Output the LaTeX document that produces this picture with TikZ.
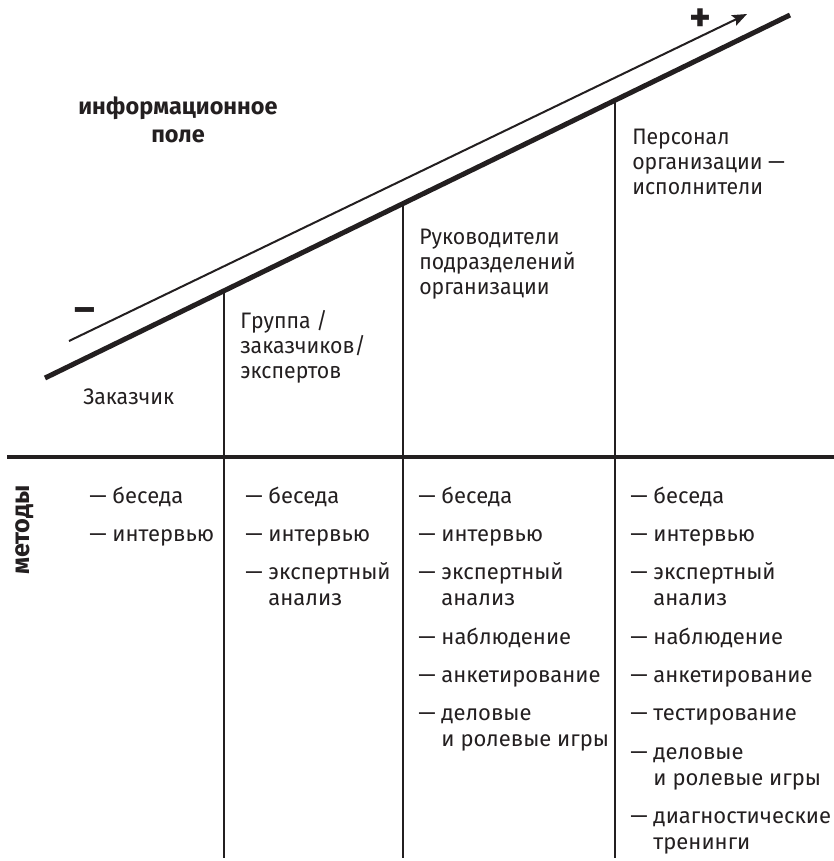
\documentclass[tikz,border=0pt]{standalone}
\usepackage{fontspec}
\setsansfont{Fira Sans}
\newfontfamily\narrowsans[FakeStretch=0.95]{Fira Sans}
\usetikzlibrary{arrows.meta}

\begin{document}
\begin{tikzpicture}[x=0.75pt, y=-0.75pt, line join=round, font=\sffamily,
    thickline/.style={line width=3.75pt, draw=ink, line cap=butt},
    rule/.style={line width=0.9pt, draw=ink},
    toplabel/.style={anchor=base west, inner sep=0pt, align=left, text=ink,
      font=\narrowsans\fontsize{16.8}{18.4}\selectfont},
    methodlist/.style={anchor=base west, inner sep=0pt, align=left, text=ink,
      font=\sffamily\fontsize{16.5}{19.35}\selectfont},
    boldlabel/.style={inner sep=0pt, text=ink, font=\sffamily\bfseries\fontsize{17.6}{21}\selectfont}]

% ---------- helpers ----------
\definecolor{ink}{RGB}{35,31,32}
\newcommand{\indentline}{\hphantom{— }}
\useasboundingbox (0,0) rectangle (834,861);

% ---------- slope ----------
\coordinate (lo) at (45,378);
\coordinate (hi) at (790,15);
\coordinate (a0) at (69,341);
\coordinate (a1) at (747,14);
\draw[thickline] (lo) -- (hi)
  coordinate[pos=0.2403] (t1)
  coordinate[pos=0.4805] (t2)
  coordinate[pos=0.7651] (t3);
\draw[line width=1.5pt, draw=ink, -{Stealth[length=11pt,width=8.5pt,inset=2pt]}] (a0) -- (a1);
\node[boldlabel, font=\sffamily\bfseries\fontsize{31}{31}\selectfont] (plus) at (700,20) {+};
\node[boldlabel, font=\sffamily\bfseries\fontsize{30}{30}\selectfont] (minus) at (85,315) {–};
% last line baseline (multi-line nodes sit on their last line)
\node[boldlabel, anchor=base, align=center] (field) at (178,142) {информационное\\поле};

% ---------- table ----------
\coordinate (hl) at (7,457);
\coordinate (hr) at (834,457);
\coordinate (bot) at (0,858);
\draw[line width=3.4pt, draw=ink] (hl) -- (hr);
\foreach \t in {t1,t2,t3}{%
  \draw[rule] (\t) -- (\t |- bot);
}

% groups
\node[toplabel] (g1) at (83,404) {Заказчик};
\node[toplabel] (g2) at (240,378) {Группа /\\заказчиков/\\экспертов};
\node[toplabel] (g3) at (419,294) {Руководители\\подразделений\\организации};
\node[toplabel] (g4) at (632,194) {Персонал\\организации —\\исполнители};

% methods
\node[boldlabel, rotate=90, font=\sffamily\bfseries\fontsize{19}{19}\selectfont] (meth) at (25,530) {методы};
\node[methodlist] (m1) at (89,541.4) {— беседа\\[9.45pt]— интервью};
\node[methodlist] (m2) at (245,605.6) {— беседа\\[9.45pt]— интервью\\[9.45pt]— экспертный\\\indentline анализ};
\node[methodlist] (m3) at (418,746.6) {— беседа\\[9.45pt]— интервью\\[9.45pt]— экспертный\\\indentline анализ\\[9.45pt]— наблюдение\\[9.45pt]— анкетирование\\[9.45pt]— деловые\\\indentline и ролевые игры};
\node[methodlist] (m4) at (630,849.2) {— беседа\\[9.45pt]— интервью\\[9.45pt]— экспертный\\\indentline анализ\\[9.45pt]— наблюдение\\[9.45pt]— анкетирование\\[9.45pt]— тестирование\\[9.45pt]— деловые\\\indentline и ролевые игры\\[9.45pt]— диагностические\\\indentline тренинги};

\end{tikzpicture}
\end{document}
